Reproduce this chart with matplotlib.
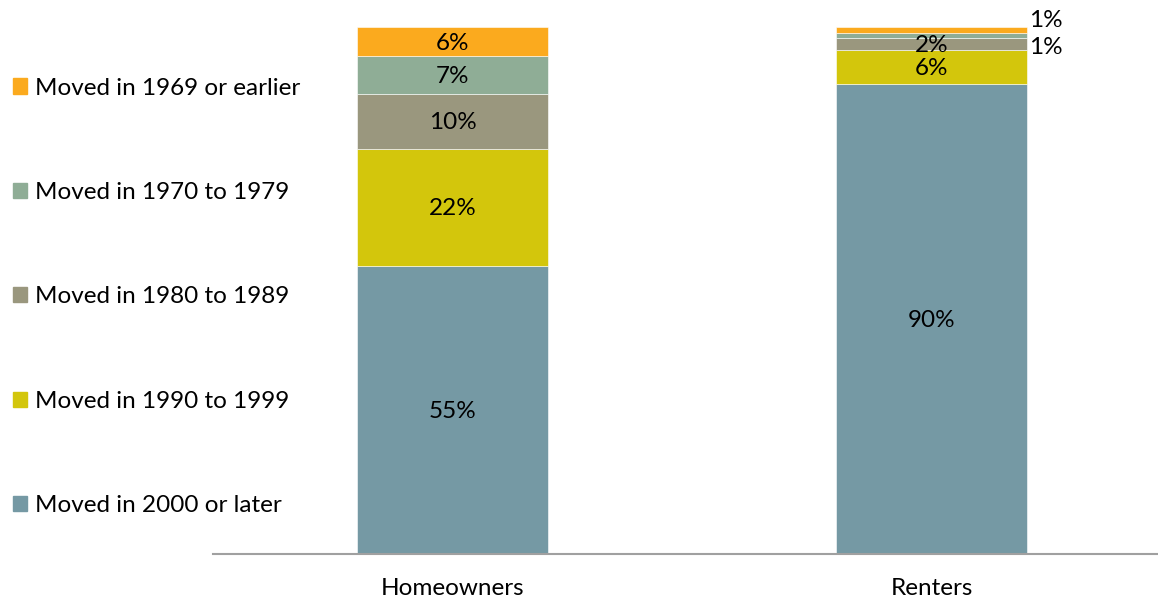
import numpy as np
import matplotlib.pyplot as plt
from matplotlib.patches import Patch

plt.rcParams['font.family'] = ['Lato', 'DejaVu Sans']

groups = ["Homeowners", "Renters"]
series = ["Moved in 2000 or later", "Moved in 1990 to 1999", "Moved in 1980 to 1989",
          "Moved in 1970 to 1979", "Moved in 1969 or earlier"]
homeowners = [54.7, 22.2, 10.4, 7.2, 5.5]
renters = [89.2, 6.5, 2.3, 0.9, 1.1]
homeowner_labels = ["55%", "22%", "10%", "7%", "6%"]
renter_labels = ["90%", "6%", "2%", "1%", "1%"]
colors = ["#7599A4", "#D3C60C", "#9A977E", "#8FAD96", "#FBAA1E"]

fig = plt.figure(figsize=(11.58, 6.01), dpi=100)
ax = fig.add_axes([213 / 1158, 47 / 601, 945 / 1158, 527 / 601])

x = np.arange(len(groups))
width = 0.4
data = np.array([homeowners, renters]).T
labels = np.array([homeowner_labels, renter_labels]).T
bottom = np.zeros(len(groups))
fs = 17.5
for i, name in enumerate(series):
    bars = ax.bar(x, data[i], width, bottom=bottom, color=colors[i], label=name,
                  edgecolor="white", linewidth=0.4)
    for j, b in enumerate(bars):
        val = data[i][j]
        cx = b.get_x() + b.get_width() / 2
        cy = bottom[j] + val / 2
        if val >= 2:
            ax.text(cx, cy - 0.3, labels[i][j], ha="center", va="center", fontsize=fs, color="black")
    bottom += data[i]

# small renter slices labelled to the right of the bar
r_right = x[1] + width / 2
ax.annotate(labels[4][1], xy=(r_right, 100), xytext=(1, 5), textcoords="offset points",
            ha="left", va="center", fontsize=fs, annotation_clip=False)
ax.annotate(labels[3][1], xy=(r_right, 100), xytext=(1, -14.5), textcoords="offset points",
            ha="left", va="center", fontsize=fs, annotation_clip=False)

ax.set_xlim(-0.5, (1158 - 452.5) / 479)
ax.set_ylim(0, 100)
ax.set_xticks(x)
ax.set_xticklabels(groups, fontsize=fs)
ax.tick_params(axis="x", length=0, pad=17.5)
ax.set_yticks([])
for s in ["top", "right", "left"]:
    ax.spines[s].set_visible(False)
ax.spines["bottom"].set_color("#A0A0A0")
ax.spines["bottom"].set_linewidth(1.5)

handles = [Patch(color=colors[i], label=series[i]) for i in range(len(series))][::-1]
fig.legend(handles=handles, loc="upper left", bbox_to_anchor=(0.003, 0.887),
           frameon=False, fontsize=fs, labelspacing=3.43, handlelength=0.58,
           handleheight=0.58, handletextpad=0.33, borderaxespad=0)

fig.savefig("out.png", dpi=100)
